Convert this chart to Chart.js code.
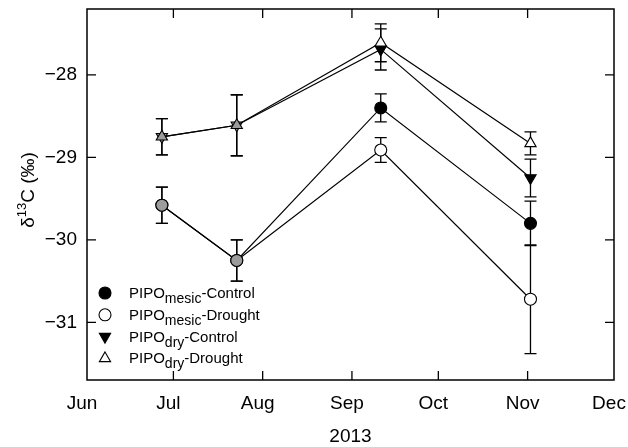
<!DOCTYPE html>
<html>
<head>
<meta charset="utf-8">
<script src="https://cdn.jsdelivr.net/npm/chart.js@4.4.0/dist/chart.umd.min.js"></script>
<style>
  html, body { margin: 0; padding: 0; background: #fff; }
  #wrap { width: 628px; height: 447px; }
</style>
</head>
<body>
<div id="wrap"><canvas id="d13cChart"></canvas></div>
<script>
const FONT = '"Liberation Sans", Arial, Helvetica, sans-serif';

// sampling dates as days after 1 June 2013
const sampleDays = [26, 52, 102, 154];
const monthDays = [0, 30, 61, 92, 122, 153, 183];
const monthLabels = ['Jun', 'Jul', 'Aug', 'Sep', 'Oct', 'Nov', 'Dec'];
const yTicks = [-31, -30, -29, -28];

// delta 13C means and standard errors
const mesicControl = [-29.58, -30.25, -28.40, -29.80];
const mesicControlErr = [0.22, 0.25, 0.17, 0.27];
const mesicDrought = [-29.58, -30.25, -28.91, -30.72];
const mesicDroughtErr = [0.22, 0.25, 0.15, 0.66];
const dryControl = [-28.75, -28.61, -27.69, -29.25];
const dryControlErr = [0.22, 0.37, 0.25, 0.23];
const dryDrought = [-28.75, -28.61, -27.61, -28.83];
const dryDroughtErr = [0.22, 0.37, 0.23, 0.14];

const GREY = '#9c9c9c';

function makeSeries(label, values, errors, style, fills, rotation, order) {
  return {
    label: label,
    data: values.map((v, i) => ({ x: sampleDays[i], y: v })),
    errors: errors,
    order: order,
    borderColor: '#000',
    borderWidth: 1.2,
    pointStyle: style,
    pointRotation: rotation,
    pointRadius: style === 'circle' ? 6 : 6.5,
    pointBorderWidth: 1.1,
    pointBorderColor: '#000',
    pointBackgroundColor: fills,
    tension: 0
  };
}

const datasets = [
  makeSeries('mesic|Control', mesicControl, mesicControlErr, 'circle', [GREY, GREY, '#000', '#000'], 0, 2),
  makeSeries('mesic|Drought', mesicDrought, mesicDroughtErr, 'circle', [GREY, GREY, '#fff', '#fff'], 0, 1),
  makeSeries('dry|Control', dryControl, dryControlErr, 'triangle', [GREY, GREY, '#000', '#000'], 180, 3),
  makeSeries('dry|Drought', dryDrought, dryDroughtErr, 'triangle', [GREY, GREY, '#fff', '#fff'], 0, 0)
];

// vertical error bars with caps, drawn under the markers
const errorBars = {
  id: 'errorBars',
  beforeDatasetsDraw(chart) {
    const { ctx, scales: { x, y } } = chart;
    ctx.save();
    ctx.strokeStyle = '#000';
    ctx.lineWidth = 1.3;
    chart.data.datasets.forEach(ds => {
      ds.data.forEach((pt, i) => {
        const px = x.getPixelForValue(pt.x);
        const top = y.getPixelForValue(pt.y + ds.errors[i]);
        const bot = y.getPixelForValue(pt.y - ds.errors[i]);
        ctx.beginPath();
        ctx.moveTo(px, top); ctx.lineTo(px, bot);
        ctx.moveTo(px - 6, top); ctx.lineTo(px + 6, top);
        ctx.moveTo(px - 6, bot); ctx.lineTo(px + 6, bot);
        ctx.stroke();
      });
    });
    ctx.restore();
  }
};

// box frame with inward tick marks on all four sides
const frame = {
  id: 'frame',
  afterDatasetsDraw(chart) {
    const { ctx, chartArea: a, scales: { x, y } } = chart;
    ctx.save();
    ctx.strokeStyle = '#000';
    ctx.lineWidth = 1.3;
    ctx.beginPath();
    x.ticks.forEach(t => {
      const px = x.getPixelForValue(t.value);
      if (px <= a.left + 1 || px >= a.right - 1) return;
      ctx.moveTo(px, a.bottom); ctx.lineTo(px, a.bottom - 9);
      ctx.moveTo(px, a.top); ctx.lineTo(px, a.top + 9);
    });
    y.ticks.forEach(t => {
      const py = y.getPixelForValue(t.value);
      ctx.moveTo(a.left, py); ctx.lineTo(a.left + 9, py);
      ctx.moveTo(a.right, py); ctx.lineTo(a.right - 9, py);
    });
    ctx.stroke();
    ctx.lineWidth = 1.5;
    ctx.strokeRect(a.left, a.top, a.right - a.left, a.bottom - a.top);
    ctx.restore();
  }
};

// y title with superscript, and legend entries with subscripts
const labels = {
  id: 'labels',
  afterDraw(chart) {
    const { ctx } = chart;
    ctx.save();
    ctx.fillStyle = '#000';
    ctx.textBaseline = 'alphabetic';

    // rotated y-axis title
    ctx.save();
    ctx.translate(34, 190);
    ctx.rotate(-Math.PI / 2);
    const big = '19px ' + FONT, small = '13px ' + FONT;
    ctx.font = big;
    const w1 = ctx.measureText('\u03b4').width;
    const w3 = ctx.measureText('C (\u2030)').width;
    ctx.font = small;
    const w2 = ctx.measureText('13').width;
    let cx = -(w1 + w2 + w3) / 2;
    ctx.font = big;
    ctx.fillText('\u03b4', cx, 0);
    cx += w1;
    ctx.font = small;
    ctx.fillText('13', cx, -8);
    cx += w2;
    ctx.font = big;
    ctx.fillText('C (\u2030)', cx, 0);
    ctx.restore();

    // legend
    chart.data.datasets.forEach((ds, i) => {
      const rowY = 293 + i * 21.8;
      const fill = ds.pointBackgroundColor[3];
      ctx.fillStyle = fill;
      ctx.strokeStyle = '#000';
      ctx.lineWidth = 1.1;
      Chart.helpers.drawPoint(ctx, {
        pointStyle: ds.pointStyle,
        radius: ds.pointRadius,
        rotation: ds.pointRotation,
        borderWidth: 1.1
      }, 105, rowY);
      const [sub, tail] = ds.label.split('|');
      ctx.fillStyle = '#000';
      let tx = 129;
      const base = rowY + 5;
      ctx.font = '15px ' + FONT;
      ctx.fillText('PIPO', tx, base);
      tx += ctx.measureText('PIPO').width;
      ctx.font = '14px ' + FONT;
      ctx.fillText(sub, tx, base + 5);
      tx += ctx.measureText(sub).width;
      ctx.font = '15px ' + FONT;
      ctx.fillText('-' + tail, tx, base);
    });
    ctx.restore();
  }
};

// fixed axis boxes, with no extra room kept for overhanging labels
function fixBox(axis, size) {
  if (axis.isHorizontal()) axis.height = size; else axis.width = size;
  axis.paddingTop = 0;
  axis.paddingBottom = 0;
  axis.paddingLeft = 0;
  axis.paddingRight = 0;
}

new Chart(document.getElementById('d13cChart'), {
  type: 'line',
  data: { datasets: datasets },
  options: {
    responsive: true,
    maintainAspectRatio: false,
    animation: false,
    layout: { autoPadding: false, padding: { left: 0, right: 14, top: 9, bottom: 0 } },
    plugins: { legend: { display: false }, tooltip: { enabled: false } },
    scales: {
      x: {
        type: 'linear',
        min: monthDays[0],
        max: monthDays[monthDays.length - 1],
        afterBuildTicks: axis => { axis.ticks = monthDays.map(v => ({ value: v })); },
        afterFit: axis => fixBox(axis, 67),
        grid: { display: false, drawTicks: false },
        border: { display: false },
        ticks: {
          padding: 12,
          labelOffset: -5,
          color: '#000',
          font: { family: FONT, size: 19 },
          callback: v => monthLabels[monthDays.indexOf(v)]
        },
        title: {
          display: true,
          text: '2013',
          color: '#000',
          font: { family: FONT, size: 19, lineHeight: 1 },
          padding: { top: 0, bottom: 1 }
        }
      },
      y: {
        min: -31.7,
        max: -27.2,
        afterBuildTicks: axis => { axis.ticks = yTicks.map(v => ({ value: v })); },
        afterFit: axis => fixBox(axis, 87),
        grid: { display: false, drawTicks: false },
        border: { display: false },
        ticks: {
          padding: 10,
          color: '#000',
          font: { family: FONT, size: 19 },
          callback: v => '\u2212' + Math.abs(v)
        }
      }
    }
  },
  plugins: [errorBars, frame, labels]
});
</script>
</body>
</html>
